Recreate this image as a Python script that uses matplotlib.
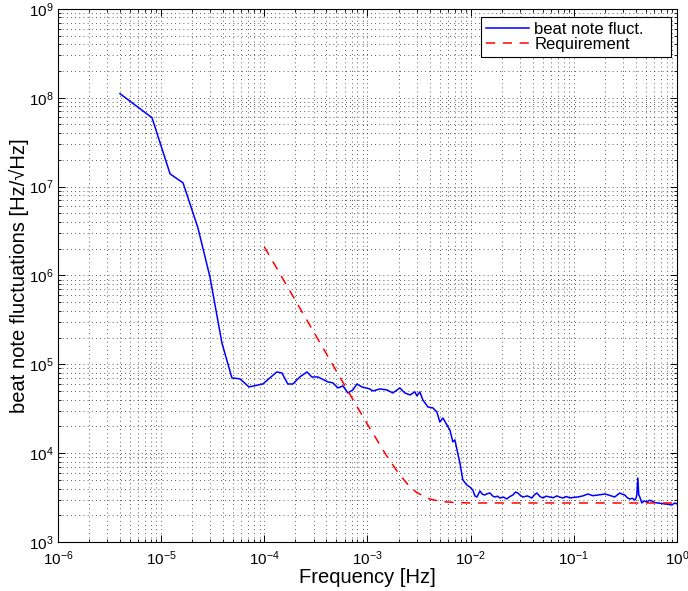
import numpy as np
import matplotlib
matplotlib.use("Agg")
import matplotlib.pyplot as plt
from matplotlib.ticker import LogLocator, NullFormatter

plt.rcParams['font.family'] = ['Liberation Sans', 'DejaVu Sans']
plt.rcParams['mathtext.fontset'] = 'custom'
plt.rcParams['mathtext.rm'] = 'Liberation Sans'
plt.rcParams['mathtext.it'] = 'Liberation Sans'
plt.rcParams['mathtext.default'] = 'regular'

# measured beat note spectrum
freq = [3.99e-6, 8.15e-6, 1.22e-5, 1.63e-5, 2.27e-5, 2.97e-5, 3.88e-5, 4.85e-5,
        5.80e-5, 7.10e-5, 9.69e-5, 1.32e-4, 1.48e-4, 1.69e-4, 1.89e-4, 2.21e-4,
        2.59e-4, 2.89e-4, 3.31e-4, 4.13e-4, 4.62e-4, 5.17e-4, 5.78e-4, 6.46e-4,
        7.22e-4, 7.89e-4, 8.83e-4, 1.05e-3, 1.13e-3, 1.32e-3, 1.54e-3, 1.76e-3,
        2.06e-3, 2.30e-3, 2.58e-3, 2.88e-3, 3.01e-3, 3.22e-3, 3.44e-3, 3.85e-3,
        4.30e-3, 4.70e-3, 5.03e-3, 5.38e-3, 6.29e-3, 6.72e-3, 7.03e-3, 7.86e-3,
        8.40e-3, 9.18e-3, 9.82e-3, 1.05e-2, 1.10e-2, 1.15e-2, 1.23e-2, 1.30e-2,
        1.37e-2, 1.45e-2, 1.54e-2, 1.63e-2, 1.72e-2, 1.82e-2, 1.92e-2, 2.08e-2,
        2.24e-2, 2.40e-2, 2.57e-2, 2.72e-2, 2.87e-2, 3.03e-2, 3.20e-2, 3.55e-2,
        3.92e-2, 4.15e-2, 4.38e-2, 4.70e-2, 5.01e-2, 5.40e-2, 5.85e-2, 6.30e-2,
        6.84e-2, 7.30e-2, 7.82e-2, 8.50e-2, 9.14e-2, 1.00e-1, 1.09e-1, 1.22e-1,
        1.37e-1, 1.53e-1, 1.71e-1, 1.85e-1, 2.00e-1, 2.22e-1, 2.49e-1, 2.65e-1,
        2.79e-1, 2.95e-1, 3.12e-1, 3.30e-1, 3.49e-1, 3.70e-1, 3.90e-1, 4.00e-1,
        4.08e-1, 4.17e-1, 4.26e-1, 4.36e-1, 4.56e-1, 4.80e-1, 5.10e-1, 5.40e-1,
        5.70e-1, 6.10e-1, 6.52e-1, 7.00e-1, 7.62e-1, 8.20e-1, 8.91e-1, 9.53e-1,
        1.00]
beat = [1.11e8, 5.96e7, 1.39e7, 1.10e7, 3.44e6, 9.64e5, 1.74e5, 7.03e4,
        6.86e4, 5.56e4, 6.01e4, 8.20e4, 8.00e4, 6.00e4, 6.00e4, 7.21e4,
        8.20e4, 7.20e4, 7.20e4, 6.34e4, 6.18e4, 5.42e4, 5.71e4, 4.76e4,
        5.15e4, 6.00e4, 5.56e4, 5.28e4, 5.01e4, 5.28e4, 5.15e4, 4.76e4,
        5.42e4, 4.76e4, 4.52e4, 4.89e4, 4.41e4, 4.89e4, 3.97e4, 3.31e4,
        3.23e4, 2.91e4, 2.24e4, 2.49e4, 1.82e4, 1.34e4, 1.41e4, 7.76e3,
        4.99e3, 4.39e3, 4.16e3, 3.85e3, 3.30e3, 3.21e3, 3.75e3, 3.45e3,
        3.38e3, 3.50e3, 3.56e3, 3.30e3, 3.21e3, 3.28e3, 3.13e3, 3.20e3,
        3.05e3, 3.25e3, 3.38e3, 3.65e3, 3.56e3, 3.35e3, 3.21e3, 3.30e3,
        3.13e3, 3.40e3, 3.56e3, 3.25e3, 3.13e3, 3.28e3, 3.21e3, 3.15e3,
        3.30e3, 3.20e3, 3.13e3, 3.25e3, 3.13e3, 3.18e3, 3.21e3, 3.30e3,
        3.47e3, 3.32e3, 3.38e3, 3.42e3, 3.47e3, 3.35e3, 3.21e3, 3.40e3,
        3.56e3, 3.45e3, 3.38e3, 3.15e3, 3.05e3, 3.10e3, 2.97e3, 3.10e3,
        3.38e3, 5.26e3, 3.40e3, 3.21e3, 2.75e3, 2.90e3, 2.82e3, 2.95e3,
        2.90e3, 2.78e3, 2.75e3, 2.72e3, 2.68e3, 2.66e3, 2.61e3, 2.75e3,
        2.68e3]

# requirement curve
req_freq = [1.0e-4, 1.5e-4, 2.0e-4, 3.0e-4, 4.0e-4, 5.0e-4, 7.0e-4, 1.0e-3,
            1.5e-3, 2.0e-3, 2.5e-3, 3.0e-3, 4.0e-3, 5.0e-3, 7.0e-3, 1.0e-2,
            1.0e-1, 1.0]
req = [2.095e6, 9.31e5, 5.24e5, 2.33e5, 1.31e5, 8.38e4, 4.27e4, 2.11e4,
       9.7e3, 5.92e3, 4.35e3, 3.60e3, 3.05e3, 2.87e3, 2.78e3, 2.75e3,
       2.75e3, 2.75e3]

fig = plt.figure(figsize=(6.88, 5.91), dpi=100)
ax = fig.add_axes([0.0843, 0.0829, 0.8997, 0.9021])

ax.loglog(freq, beat, color='b', lw=1.1, label='beat note fluct.')
ax.loglog(req_freq, req, color='r', lw=1.1, ls=(0, (6, 5)), label='Requirement')

ax.set_xlim(1e-6, 1)
ax.set_ylim(1e3, 1e9)
ax.xaxis.set_major_locator(LogLocator(base=10, numticks=10))
ax.yaxis.set_major_locator(LogLocator(base=10, numticks=10))
ax.xaxis.set_minor_locator(LogLocator(base=10, subs=np.arange(2, 10), numticks=10))
ax.yaxis.set_minor_locator(LogLocator(base=10, subs=np.arange(2, 10), numticks=10))
ax.xaxis.set_minor_formatter(NullFormatter())
ax.yaxis.set_minor_formatter(NullFormatter())

ax.grid(True, which='both', ls=(0, (1, 4)), color='0.15', lw=0.6)
ax.tick_params(which='both', direction='in', top=True, right=True, labelsize=11)
ax.tick_params(axis='x', which='major', pad=5)
ax.tick_params(axis='y', which='major', pad=3)
ax.tick_params(which='major', length=5, width=0.7)
ax.tick_params(which='minor', length=2.5, width=0.6)
for s in ax.spines.values():
    s.set_linewidth(0.8)

ax.set_xlabel('Frequency [Hz]', fontsize=14.5, labelpad=0)
ax.set_ylabel('beat note fluctuations [Hz/\u221aHz]', fontsize=14.5, labelpad=0)

# legend box spans a fixed region in the upper right corner
leg = ax.legend(loc='upper left', bbox_to_anchor=(0.6834, 0.910, 0.307, 0.075),
                mode='expand', fontsize=12, fancybox=False, framealpha=1,
                edgecolor='k', borderaxespad=0, handlelength=2.6,
                handletextpad=0.3, labelspacing=0.0, borderpad=0.3)
leg.get_frame().set_linewidth(0.8)

fig.savefig('out.png', dpi=100)
